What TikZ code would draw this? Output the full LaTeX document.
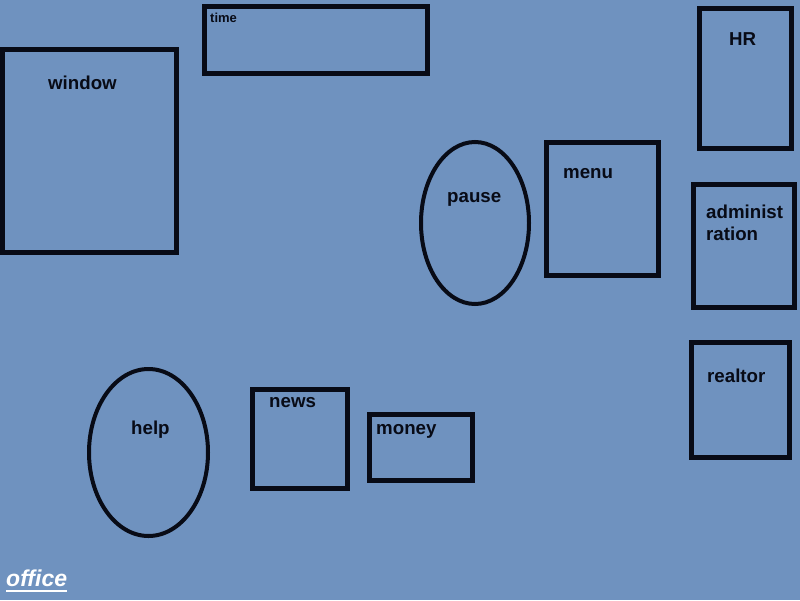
\documentclass[tikz,border=0pt]{standalone}
\usepackage{fontspec}
\setmainfont{Liberation Sans}
\usetikzlibrary{shapes.geometric}
\definecolor{deskblue}{HTML}{6F92BF}
\definecolor{ink}{HTML}{080B16}
\newcommand{\ulineword}[1]{\setbox0\hbox{#1}\rlap{\copy0}\rule[-5.5pt]{\wd0}{2pt}}
\begin{document}
\begin{tikzpicture}[x=1pt,y=-1pt,
    room/.style={rectangle,draw=ink,line width=5pt,inner sep=0pt,outer sep=0pt},
    blob/.style={ellipse,draw=ink,line width=4pt,inner sep=0pt,outer sep=0pt},
    tag/.style={anchor=base west,inner sep=0pt,text=ink,font=\fontsize{18.7}{22}\selectfont\bfseries}]
    \useasboundingbox (0,0) rectangle (800,600);
    \fill[deskblue] (0,0) rectangle (800,600);
    				% rooms
    				\node[room,minimum width=174,minimum height=203] (window) at (89.5,151) {};
    				\node[room,minimum width=223,minimum height=67] (time) at (316,40) {};
    				\node[room,minimum width=92,minimum height=140] (hr) at (745.5,78.5) {};
    				\node[room,minimum width=112,minimum height=133] (menu) at (602.5,209) {};
    				\node[room,minimum width=101,minimum height=123] (admin) at (744,246) {};
    				\node[room,minimum width=98,minimum height=115] (realtor) at (740.5,400) {};
    				\node[room,minimum width=95,minimum height=99] (news) at (300,439) {};
    				\node[room,minimum width=103,minimum height=66] (money) at (421,447.5) {};
    				\node[blob,minimum width=108,minimum height=162] (pause) at (475,223) {};
    				\node[blob,minimum width=119,minimum height=167] (help) at (148.5,452.5) {};
    				% names
    				\node[tag] (windowtxt) at (48,89) {window};
    				\node[tag,font=\fontsize{13}{15}\selectfont\bfseries] (timetxt) at (210,22) {time};
    				\node[tag] (hrtxt) at (729,45) {HR};
    				\node[tag] (menutxt) at (563,178) {menu};
    				\node[tag,anchor=north west,align=left] (admintxt) at (706,204.6) {administ\\ration};
    				\node[tag] (realtortxt) at (707,382) {realtor};
    				\node[tag] (newstxt) at (269,407) {news};
    				\node[tag] (moneytxt) at (376,434) {money};
    				\node[tag] (pausetxt) at (447,202) {pause};
    				\node[tag] (helptxt) at (131,434) {help};
    				\node[tag,text=white,font=\fontsize{23}{26}\selectfont\bfseries\itshape] (office) at (6,586) {\ulineword{office}};
\end{tikzpicture}
\end{document}
